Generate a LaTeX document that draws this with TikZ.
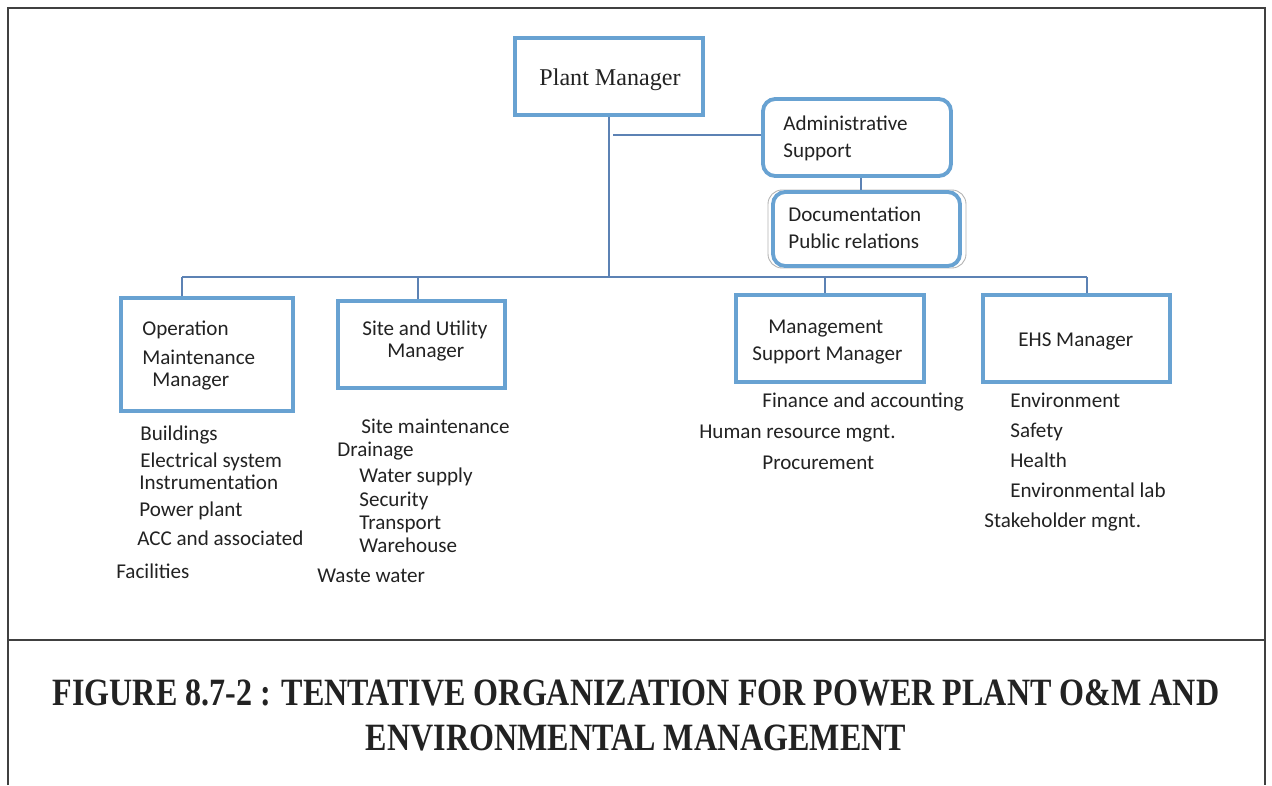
\documentclass[tikz,border=0pt]{standalone}
\usepackage{fontspec}
\usepackage{graphicx}
\setmainfont{Carlito}
\newfontfamily\serifhead{Liberation Serif}
\usetikzlibrary{positioning, fit, calc}

\definecolor{boxblue}{RGB}{104,162,210}
\definecolor{linkblue}{RGB}{92,130,180}
\definecolor{framegray}{RGB}{64,64,64}
\definecolor{inkgray}{RGB}{34,34,34}

\tikzset{
  mgrbox/.style={draw=boxblue, line width=2.2pt, inner sep=0pt},
  roundbox/.style={mgrbox, rounded corners=7pt},
  link/.style={draw=linkblue, line width=0.7pt},
  boxtext/.style={inner sep=0pt, text=inkgray, font=\fontsize{12}{14.2}\selectfont},
  item/.style={boxtext, anchor=base west},
  caption/.style={inner sep=0pt, text=inkgray, font=\serifhead\bfseries\fontsize{22}{26}\selectfont}
}

\begin{document}
\begin{tikzpicture}[x=0.02cm, y=-0.02cm]
    \useasboundingbox (0,0) rectangle (1272,785);

    % Page frame and caption divider
    \draw[framegray, line width=0.7pt] (8,785) -- (8,8) -- (1265,8) -- (1265,785);
    \draw[framegray, line width=1.1pt] (8,640) -- (1265,640);

    % Top of the chart
    \node[mgrbox, fit={(515,38) (703,115)}] (plant) {};
    \node[boxtext, font=\serifhead\fontsize{13.7}{16}\selectfont] (planttxt) at ($(plant.center)+(1,3)$) {Plant Manager};

    \node[roundbox, fit={(763,99) (951,176)}] (admin) {};
    \node[item] (admintxt1) at (783,130) {Administrative};
    \node[item] (admintxt2) at (783,157) {Support};

    \node[draw=gray!60, line width=0.5pt, rounded corners=8pt, inner sep=0pt, fit={(768,190) (966,268)}] (docouter) {};
    \node[roundbox, fit={(773,192) (960,266)}] (doc) {};
    \node[item] (doctxt1) at (788,221) {Documentation};
    \node[item] (doctxt2) at (788,248) {Public relations};

    % Managers
    \node[mgrbox, fit={(121,298) (293,411)}] (opbox) {};
    \node[item] (optxt1) at (142,335) {Operation};
    \node[item] (optxt2) at (142,364) {Maintenance};
    \node[item] (optxt3) at (152,386) {Manager};

    \node[mgrbox, fit={(338,301) (505,388)}] (sitebox) {};
    \node[item] (sitetxt1) at (362,335) {Site and Utility};
    \node[item] (sitetxt2) at (387,357) {Manager};

    \node[mgrbox, fit={(736,295) (924,382)}] (mgmtbox) {};
    \node[item] (mgmttxt1) at (768,333) {Management};
    \node[item] (mgmttxt2) at (752,360) {Support Manager};

    \node[mgrbox, fit={(983,295) (1170,382)}] (ehsbox) {};
    \node[item] (ehstxt) at (1018,346) {EHS Manager};

    % Connectors
    \coordinate (bus-l) at (182,277);
    \coordinate (bus-s) at (418,277);
    \coordinate (bus-m) at (825,277);
    \coordinate (bus-r) at (1087,277);
    \coordinate (admtap) at (613,135);
    \draw[link] (plant.south) -- (plant.south |- bus-l);
    \draw[link] (admtap) -- (admtap -| admin.west);
    \draw[link] ($(admin.south)+(4,0)$) -- ($(admin.south |- doc.north)+(4,0)$);
    \draw[link] (bus-l) -- (bus-r);
    \draw[link] (bus-l) -- (bus-l |- opbox.north);
    \draw[link] (bus-s) -- (bus-s |- sitebox.north);
    \draw[link] (bus-m) -- (bus-m |- mgmtbox.north);
    \draw[link] (bus-r) -- (bus-r |- ehsbox.north);

    % Operation & maintenance duties
    \node[item] (op1) at (140,440) {Buildings};
    \node[item] (op2) at (140,467) {Electrical system};
    \node[item] (op3) at (139,489) {Instrumentation};
    \node[item] (op4) at (139,516) {Power plant};
    \node[item] (op5) at (137,545) {ACC and associated};
    \node[item] (op6) at (116,578) {Facilities};

    % Site and utility duties
    \node[item] (site1) at (361,433) {Site maintenance};
    \node[item] (site2) at (337,456) {Drainage};
    \node[item] (site3) at (359,482) {Water supply};
    \node[item] (site4) at (359,506) {Security};
    \node[item] (site5) at (359,529) {Transport};
    \node[item] (site6) at (359,552) {Warehouse};
    \node[item] (site7) at (317,582) {Waste water};

    % Management support duties
    \node[item] (mgmt1) at (762,407) {Finance and accounting};
    \node[item] (mgmt2) at (699,438) {Human resource mgnt.};
    \node[item] (mgmt3) at (762,469) {Procurement};

    % EHS duties
    \node[item] (ehs1) at (1010,407) {Environment};
    \node[item] (ehs2) at (1010,437) {Safety};
    \node[item] (ehs3) at (1010,467) {Health};
    \node[item] (ehs4) at (1010,497) {Environmental lab};
    \node[item] (ehs5) at (984,527) {Stakeholder mgnt.};

    % Caption
    \node[caption] (cap1) at (636,693)
        {\scalebox{0.83}[1]{FIGURE 8.7-2 : TENTATIVE ORGANIZATION FOR POWER PLANT O\&M AND}};
    \node[caption] (cap2) at (636,738)
        {\scalebox{0.83}[1]{ENVIRONMENTAL MANAGEMENT}};

\end{tikzpicture}
\end{document}
